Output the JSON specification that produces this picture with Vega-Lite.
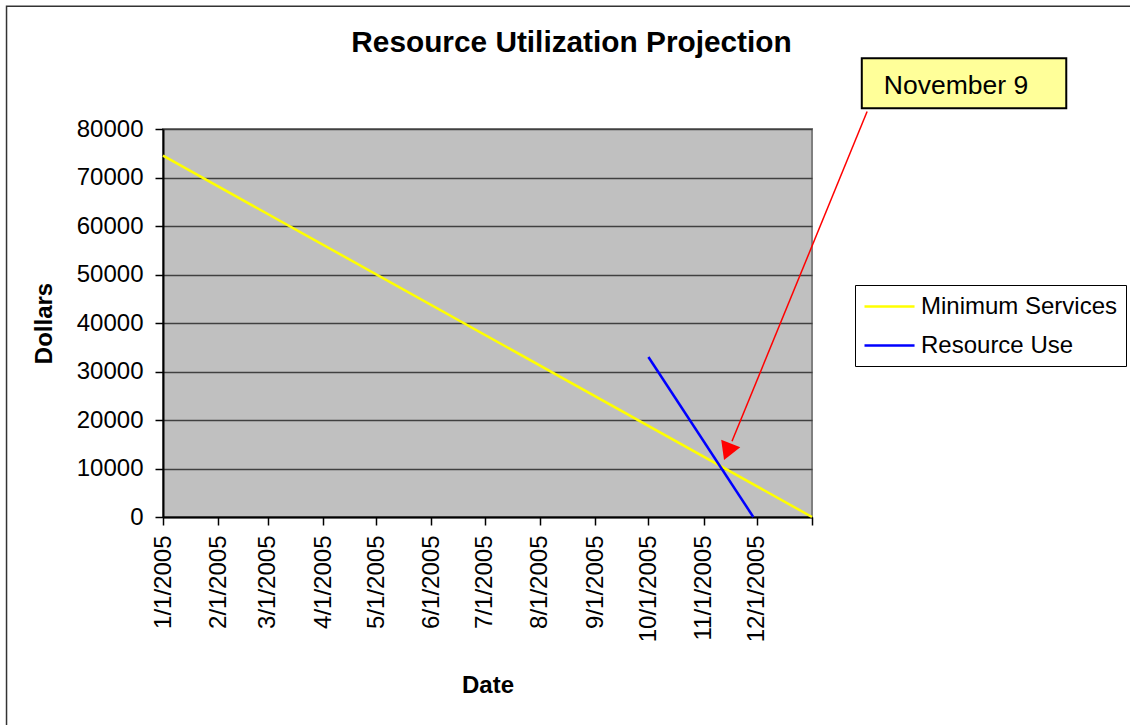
{
  "$schema": "https://vega.github.io/schema/vega-lite/v6.json",
  "autosize": "none",
  "width": 649,
  "height": 388,
  "padding": {"left": 163, "top": 129, "right": 318, "bottom": 208},
  "background": "white",
  "title": {
    "text": "Resource Utilization Projection",
    "font": "Liberation Sans",
    "fontSize": 29.8,
    "fontWeight": "bold",
    "color": "black",
    "anchor": "middle",
    "frame": "group",
    "baseline": "alphabetic",
    "dx": 84,
    "offset": -76
  },
  "config": {
    "view": {"fill": "#C0C0C0", "stroke": "#808080", "strokeWidth": 2},
    "font": "Liberation Sans"
  },
  "datasets": {
    "series": [
      {"date": "2005-01-01", "value": 74500, "series": "Minimum Services"},
      {"date": "2006-01-01", "value": 0, "series": "Minimum Services"},
      {"date": "2005-10-01", "value": 33000, "series": "Resource Use"},
      {"date": "2005-11-29", "value": 0, "series": "Resource Use"}
    ],
    "arrow": [
      {"date": "2006-02-01", "value": 83600, "date2": "2005-11-17", "value2": 15600}
    ],
    "head": [
      {"date": "2005-11-14T10:00", "value": 13450}
    ],
    "box": [
      {"date": "2006-01-29", "value": 94600, "date2": "2006-05-24", "value2": 84300, "label": "November 9", "mid": "2006-03-23", "midv": 88900}
    ],
    "frame": [
      {"date": "2004-10-05", "value": 105300, "date2": "2006-08-01", "value2": -60000}
    ]
  },
  "layer": [
    {
      "data": {"name": "series"},
      "mark": {"type": "line", "strokeWidth": 2.5},
      "encoding": {
        "x": {
          "field": "date",
          "type": "temporal",
          "scale": {"type": "utc", "domain": ["2005-01-01", "2006-01-01"], "nice": false},
          "axis": {
            "title": "Date",
            "titleFont": "Liberation Sans",
            "titleFontSize": 24,
            "titleFontWeight": "bold",
            "titleColor": "black",
            "titlePadding": 32,
            "format": "%-m/%-d/%Y",
            "labelExpr": "utcyear(datum.value) == 2006 ? '' : datum.label",
            "tickCount": {"interval": "month", "step": 1},
            "labelAngle": -90,
            "labelAlign": "right",
            "labelBaseline": "middle",
            "labelFontSize": 24,
            "labelColor": "black",
            "labelPadding": 10,
            "labelOverlap": false,
            "labelFlush": false,
            "labelBound": false,
            "tickSize": 8,
            "tickColor": "black",
            "tickWidth": 1.5,
            "domainColor": "black",
            "domainWidth": 2,
            "grid": false
          }
        },
        "y": {
          "field": "value",
          "type": "quantitative",
          "scale": {"domain": [0, 80000], "nice": false},
          "axis": {
            "title": "Dollars",
            "titleFont": "Liberation Sans",
            "titleFontSize": 24,
            "titleFontWeight": "bold",
            "titleColor": "black",
            "titlePadding": 20,
            "values": [0, 10000, 20000, 30000, 40000, 50000, 60000, 70000, 80000],
            "format": "d",
            "labelFontSize": 24,
            "labelColor": "black",
            "labelPadding": 12,
            "tickSize": 8,
            "tickColor": "black",
            "tickWidth": 1.5,
            "domainColor": "black",
            "domainWidth": 2,
            "grid": true,
            "gridColor": "#404040",
            "gridWidth": 1.5,
            "gridOpacity": 1
          }
        },
        "color": {
          "field": "series",
          "type": "nominal",
          "scale": {"domain": ["Minimum Services", "Resource Use"], "range": ["#FFFF00", "#0000FF"]},
          "legend": {
            "title": null,
            "orient": "none",
            "legendX": 692,
            "legendY": 156,
            "symbolType": "M-1,0H3.17",
            "symbolSize": 576,
            "symbolStrokeWidth": 2.5,
            "labelFont": "Liberation Sans",
            "labelFontSize": 24,
            "labelColor": "black",
            "labelOffset": 31,
            "labelLimit": 400,
            "rowPadding": 13,
            "padding": 8,
            "strokeColor": "black",
            "fillColor": "white"
          }
        }
      }
    },
    {
      "data": {"name": "frame"},
      "mark": {"type": "rect", "fillOpacity": 0, "stroke": "#333333", "strokeWidth": 1.5, "clip": false},
      "encoding": {
        "x": {"field": "date", "type": "temporal"},
        "x2": {"field": "date2"},
        "y": {"field": "value", "type": "quantitative"},
        "y2": {"field": "value2"}
      }
    },
    {
      "data": {"name": "arrow"},
      "mark": {"type": "rule", "color": "#FF0000", "strokeWidth": 1.5, "clip": false},
      "encoding": {
        "x": {"field": "date", "type": "temporal"},
        "x2": {"field": "date2"},
        "y": {"field": "value", "type": "quantitative"},
        "y2": {"field": "value2"}
      }
    },
    {
      "data": {"name": "head"},
      "mark": {"type": "point", "shape": "triangle-up", "filled": true, "color": "#FF0000", "opacity": 1, "size": 424, "angle": 202},
      "encoding": {
        "x": {"field": "date", "type": "temporal"},
        "y": {"field": "value", "type": "quantitative"}
      }
    },
    {
      "data": {"name": "box"},
      "mark": {"type": "rect", "fill": "#FFFF99", "stroke": "black", "strokeWidth": 2, "clip": false},
      "encoding": {
        "x": {"field": "date", "type": "temporal"},
        "x2": {"field": "date2"},
        "y": {"field": "value", "type": "quantitative"},
        "y2": {"field": "value2"}
      }
    },
    {
      "data": {"name": "box"},
      "mark": {"type": "text", "font": "Liberation Sans", "fontSize": 26.5, "color": "black", "align": "center", "baseline": "middle", "clip": false},
      "encoding": {
        "x": {"field": "mid", "type": "temporal"},
        "y": {"field": "midv", "type": "quantitative"},
        "text": {"field": "label"}
      }
    }
  ]
}
